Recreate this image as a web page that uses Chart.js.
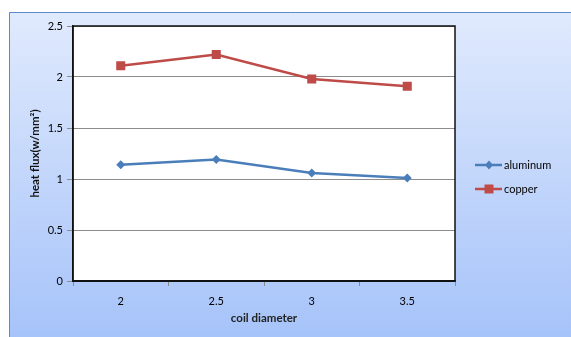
<!DOCTYPE html>
<html>
<head>
<meta charset="utf-8">
<script src="https://cdn.jsdelivr.net/npm/chart.js@4.4.1/dist/chart.umd.min.js"></script>
<style>
  html, body { margin: 0; padding: 0; background: #fff; }
  #wrap { width: 571px; height: 337px; position: relative; }
</style>
</head>
<body>
<div id="wrap"><canvas id="grafico"></canvas></div>
<script>
// diámetro de bobina vs flujo de calor
const diametros = ['2', '2.5', '3', '3.5'];
const aluminio = [1.14, 1.19, 1.06, 1.01];
const cobre = [2.11, 2.22, 1.98, 1.91];
const ticksY = [0, 0.5, 1, 1.5, 2, 2.5];

const FUENTE = 'Lato, "Open Sans", sans-serif';
const AZUL = '#4a7ebb';
const ROJO = '#be4b48';

// fondo degradado con marco azul y zona de trazado blanca
const fondo = {
    id: 'fondo',
    beforeDraw(chart) {
        const ctx = chart.ctx;
        const a = chart.chartArea;
        ctx.save();
        ctx.fillStyle = '#fff';
        ctx.fillRect(0, 0, chart.width, chart.height);
        const g = ctx.createLinearGradient(0, 12, 0, chart.height);
        g.addColorStop(0, '#e0eafd');
        g.addColorStop(1, '#a6c3f9');
        ctx.fillStyle = g;
        ctx.fillRect(9, 12, chart.width - 9, chart.height - 12);
        ctx.strokeStyle = '#5a8acb';
        ctx.lineWidth = 1;
        ctx.beginPath();
        ctx.moveTo(9.5, chart.height);
        ctx.lineTo(9.5, 12.5);
        ctx.lineTo(chart.width, 12.5);
        ctx.stroke();
        ctx.fillStyle = '#fff';
        ctx.fillRect(a.left, a.top, a.right - a.left, a.bottom - a.top);
        ctx.restore();
    },
    beforeDatasetsDraw(chart) {
        const ctx = chart.ctx;
        const a = chart.chartArea;
        ctx.save();
        ctx.strokeStyle = '#111';
        ctx.lineWidth = 1.5;
        ctx.strokeRect(a.left, a.top, a.right - a.left, a.bottom - a.top);
        ctx.restore();
    }
};

// leyenda a la derecha: línea con marcador
const leyenda = {
    id: 'leyenda',
    afterDraw(chart) {
        const ctx = chart.ctx;
        ctx.save();
        chart.data.datasets.forEach((ds, i) => {
            const y = 165 + i * 24;
            ctx.strokeStyle = ds.borderColor;
            ctx.lineWidth = 2.5;
            ctx.beginPath();
            ctx.moveTo(475, y);
            ctx.lineTo(502, y);
            ctx.stroke();
            ctx.fillStyle = ds.backgroundColor;
            ctx.beginPath();
            if (ds.pointStyle === 'rect') {
                ctx.rect(484.5, y - 4.5, 9, 9);
            } else {
                ctx.moveTo(489, y - 4.5);
                ctx.lineTo(493, y);
                ctx.lineTo(489, y + 4.5);
                ctx.lineTo(485, y);
                ctx.closePath();
            }
            ctx.fill();
            ctx.fillStyle = '#000';
            ctx.font = '11px ' + FUENTE;
            ctx.textBaseline = 'middle';
            ctx.fillText(ds.label, 504, y);
        });
        ctx.restore();
    }
};

new Chart(document.getElementById('grafico'), {
    type: 'line',
    data: {
        labels: diametros,
        datasets: [
            {
                label: 'aluminum',
                data: aluminio,
                borderColor: AZUL,
                backgroundColor: AZUL,
                borderWidth: 2.5,
                pointStyle: 'rectRot',
                pointRadius: 4.5,
                pointBorderWidth: 0,
                tension: 0
            },
            {
                label: 'copper',
                data: cobre,
                borderColor: ROJO,
                backgroundColor: ROJO,
                borderWidth: 2.5,
                pointStyle: 'rect',
                pointRadius: 6.4,
                pointBorderWidth: 0,
                tension: 0
            }
        ]
    },
    options: {
        responsive: true,
        maintainAspectRatio: false,
        animation: false,
        layout: { padding: { left: 0, top: 26, right: 116, bottom: 0 } },
        plugins: {
            legend: { display: false },
            tooltip: { enabled: false }
        },
        scales: {
            x: {
                offset: true,
                grid: {
                    offset: true,
                    drawOnChartArea: false,
                    tickLength: 5,
                    tickColor: '#8c8c8c'
                },
                border: { color: '#111', width: 1.5 },
                ticks: {
                    color: '#000',
                    padding: 9,
                    maxRotation: 0,
                    font: { family: FUENTE, size: 11 }
                },
                title: {
                    display: true,
                    text: 'coil diameter',
                    color: '#222',
                    padding: { top: 0, bottom: 12 },
                    font: { family: FUENTE, size: 11.5, weight: 'bold' }
                },
                afterFit(scale) { scale.height = 56; }
            },
            y: {
                min: 0,
                max: 2.5,
                afterBuildTicks(scale) {
                    scale.ticks = ticksY.map(v => ({ value: v }));
                },
                grid: {
                    color: ctx => ctx.tick && ctx.tick.value === 0 ? '#111' : '#8c8c8c',
                    lineWidth: 1,
                    tickLength: 6,
                    tickColor: '#8c8c8c'
                },
                border: { color: '#111', width: 1.5 },
                ticks: {
                    color: '#000',
                    padding: 4,
                    font: { family: FUENTE, size: 11 },
                    callback: v => String(v)
                },
                title: {
                    display: true,
                    text: 'heat flux(w/mm²)',
                    color: '#111',
                    padding: { top: 28, bottom: 0 },
                    font: { family: FUENTE, size: 11.5, weight: 'bold' }
                },
                afterFit(scale) { scale.width = 73; }
            }
        }
    },
    plugins: [fondo, leyenda]
});
</script>
</body>
</html>
